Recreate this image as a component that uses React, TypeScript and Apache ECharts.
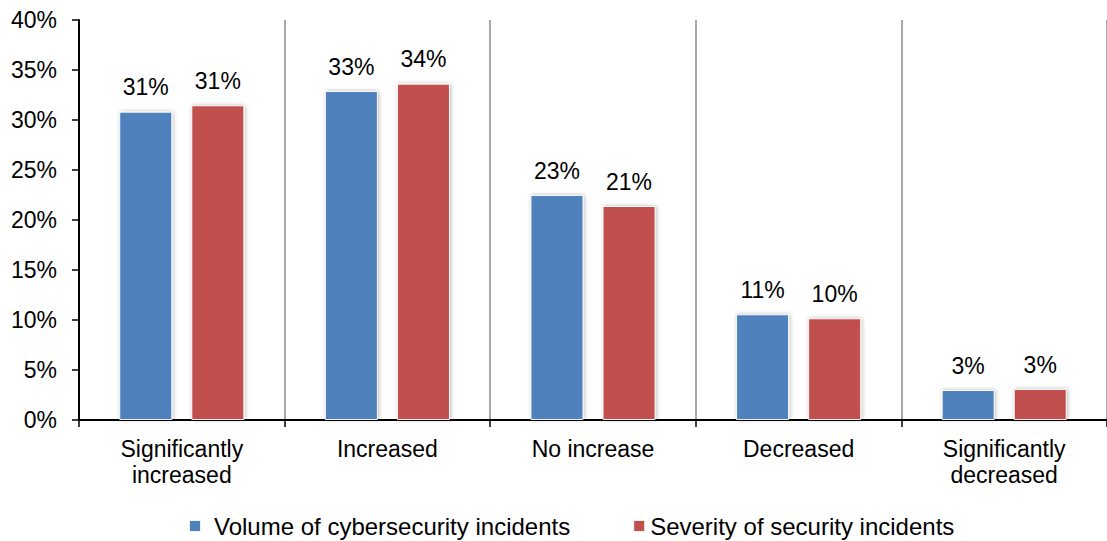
import React, { useEffect, useRef } from "react";
import * as echarts from "echarts";

const categories = [
  "Significantly\nincreased",
  "Increased",
  "No increase",
  "Decreased",
  "Significantly\ndecreased",
];
const volumeValues = [30.83, 32.9, 22.5, 10.57, 3.0];
const severityValues = [31.47, 33.63, 21.4, 10.17, 3.1];
const seriesNames = ["Volume of cybersecurity incidents", "Severity of security incidents"];
const yTicks = { min: 0, max: 40, interval: 5 };

const WIDTH = 1107;
const HEIGHT = 541;
const FONT = "'Liberation Sans', Arial, sans-serif";
const FONT_SIZE = 23;

export default function App() {
  const ref = useRef<HTMLDivElement>(null);

  useEffect(() => {
    if (!ref.current) return;
    const chart = echarts.init(ref.current, undefined, { renderer: "svg" });
    const barStyle = (color: string) => ({
      color,
      borderColor: "rgba(255,255,255,0.9)",
      borderWidth: 1,
      shadowColor: "rgba(0,0,0,0.28)",
      shadowBlur: 4,
      shadowOffsetX: 1,
      shadowOffsetY: 0,
    });
    const label = {
      show: true,
      position: "top" as const,
      distance: 13,
      color: "#000",
      fontFamily: FONT,
      fontSize: FONT_SIZE,
      formatter: (p: any) => `${Math.round(p.value)}%`,
    };
    chart.setOption({
      animation: false,
      textStyle: { fontFamily: FONT },
      grid: {
        left: 79,
        top: 20,
        width: 207 * 5,
        bottom: HEIGHT - 420,
        containLabel: false,
      },
      legend: {
        data: [
          { name: seriesNames[0], textStyle: { padding: [0, 0, 0, 8] } },
          { name: seriesNames[1], textStyle: { padding: [0, 0, 0, 0] } },
        ],
        left: 188,
        top: 512,
        padding: 0,
        itemWidth: 12,
        itemHeight: 12,
        itemGap: 62,
        icon: "rect",
        textStyle: {
          color: "#000",
          fontSize: 24,
          fontFamily: FONT,
          lineHeight: 28,
        },
      },
      xAxis: {
        type: "category",
        data: categories,
        boundaryGap: true,
        axisLine: { show: true, lineStyle: { color: "#000", width: 2 } },
        axisTick: { show: true, length: 7, lineStyle: { color: "#000", width: 1.5 } },
        splitLine: { show: true, interval: 0, lineStyle: { color: "#8a8a8a", width: 1.5 } },
        axisLabel: {
          color: "#000",
          fontSize: FONT_SIZE,
          fontFamily: FONT,
          lineHeight: 26,
          margin: 16,
          interval: 0,
        },
      },
      yAxis: {
        type: "value",
        min: yTicks.min,
        max: yTicks.max,
        interval: yTicks.interval,
        axisLine: { show: true, lineStyle: { color: "#000", width: 2 } },
        axisTick: { show: true, length: 7, lineStyle: { color: "#000", width: 1.5 } },
        splitLine: { show: false },
        axisLabel: {
          color: "#000",
          fontSize: FONT_SIZE,
          fontFamily: FONT,
          margin: 22,
          formatter: "{value}%",
        },
      },
      series: [
        {
          name: seriesNames[0],
          type: "bar",
          data: volumeValues,
          barWidth: 53,
          barGap: "36%",
          itemStyle: barStyle("#4F81BD"),
          label,
        },
        {
          name: seriesNames[1],
          type: "bar",
          data: severityValues,
          barWidth: 53,
          barGap: "36%",
          itemStyle: barStyle("#C0504D"),
          label,
        },
      ],
    });
    return () => chart.dispose();
  }, []);

  return (
    <div
      ref={ref}
      style={{
        position: "fixed",
        left: 0,
        top: 0,
        width: WIDTH,
        height: HEIGHT,
        background: "#fff",
      }}
    />
  );
}
